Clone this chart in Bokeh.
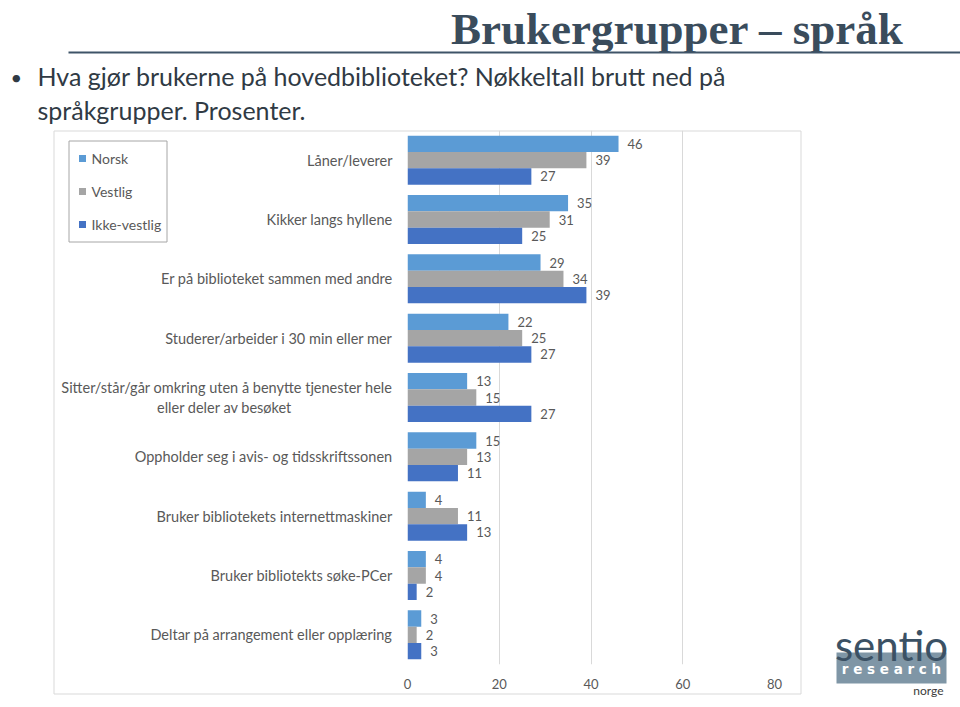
from bokeh.plotting import figure
from bokeh.models import FactorRange, Range1d, FixedTicker, ColumnDataSource, LabelSet
from bokeh.core.properties import value
from bokeh.transform import dodge
from bokeh.embed import file_html
from bokeh.resources import INLINE

NB = "\u00a0"
categories = [
    "Låner/leverer",
    "Kikker langs hyllene",
    "Er på biblioteket sammen med andre",
    "Studerer/arbeider i 30 min eller mer",
    "Sitter/står/går omkring uten å benytte tjenester hele\neller deler av besøket" + NB * 27,
    "Oppholder seg i avis- og tidsskriftssonen",
    "Bruker bibliotekets internettmaskiner",
    "Bruker bibliotekts søke-PCer",
    "Deltar på arrangement eller opplæring",
]
norsk = [46, 35, 29, 22, 13, 15, 4, 4, 3]
vestlig = [39, 31, 34, 25, 15, 13, 11, 4, 2]
ikke_vestlig = [27, 25, 39, 27, 27, 11, 13, 2, 3]
series_names = ["Norsk", "Vestlig", "Ikke-vestlig"]
x_ticks = [0, 20, 40, 60, 80]

title_text = "Brukergrupper – språk"
bullet_lines = ["Hva gjør brukerne på hovedbiblioteket? Nøkkeltall brutt ned på",
                "språkgrupper. Prosenter."]

colors = ["#5B9BD5", "#A5A5A5", "#4472C4"]
TXT = "#595959"
FONT = "Lato"
OVER = {"position": "absolute", "left": "0px", "top": "0px"}

# ---------------- background / decoration figure (pixel coordinates) ----------------
bg = figure(width=960, height=707, output_backend="svg", toolbar_location=None,
            x_range=Range1d(0, 960), y_range=Range1d(707, 0),
            x_axis_type=None, y_axis_type=None, min_border=0, styles=OVER)
bg.grid.visible = False
bg.outline_line_color = None
bg.background_fill_color = "white"
bg.border_fill_color = "white"

# title and rule
bg.text(x=[903], y=[28], text=[title_text], text_font=value("Liberation Serif"),
        text_font_style="bold", text_font_size="45px", text_color="#3a4c5c",
        text_align="right", text_baseline="middle")
bg.segment(x0=[68], y0=[52], x1=[960], y1=[52], line_color="#3f5468", line_width=2)
# bullet text
bg.text(x=[10], y=[76], text=["•"], text_font=value(FONT), text_font_size="20px",
        text_color="#303a44", text_baseline="middle")
bg.text(x=[37, 37], y=[75, 109], text=bullet_lines, text_font=value(FONT),
        text_font_size="25px", text_color="#303a44", text_baseline="middle")
# chart box
bg.quad(left=[53.5], right=[800.5], top=[130.5], bottom=[693.5], fill_color=None,
        line_color="#d9d9d9", line_width=1)
# legend (drawn from the series names and colours)
bg.quad(left=[68.5], right=[166.5], top=[140.5], bottom=[241.5], fill_color="white",
        line_color="#a6a6a6", line_width=1)
leg_y = [158, 191, 224]
bg.rect(x=[82] * 3, y=leg_y, width=7, height=7, fill_color=colors, line_color=None)
bg.text(x=[91] * 3, y=leg_y, text=series_names, text_font=value(FONT),
        text_font_size="14px", text_color=TXT, text_baseline="middle")
# logo
bg.quad(left=[836], right=[946], top=[652], bottom=[683], fill_color="#7f96a6",
        line_color=None)
bg.text(x=[891], y=[644], text=["sentio"], text_font=value(FONT), text_font_size="42px",
        text_color="#3b5164", text_align="center", text_baseline="middle")
bg.text(x=[891], y=[668], text=["r e s e a r c h"], text_font=value("DejaVu Sans"),
        text_font_style="bold", text_font_size="13.5px", text_color="white",
        text_align="center", text_baseline="middle")
bg.text(x=[943], y=[690], text=["norge"], text_font=value(FONT), text_font_size="12px",
        text_color="#3b3b3b", text_align="right", text_baseline="middle")

# ---------------- chart figure ----------------
src = ColumnDataSource(dict(cat=categories, norsk=norsk, vestlig=vestlig, ikke=ikke_vestlig,
                            norsk_t=[str(v) for v in norsk],
                            vestlig_t=[str(v) for v in vestlig],
                            ikke_t=[str(v) for v in ikke_vestlig]))

p = figure(width=960, height=707, output_backend="svg", toolbar_location=None,
           y_range=FactorRange(factors=list(reversed(categories)), range_padding=0),
           x_range=Range1d(0, 80), styles=OVER,
           min_border_left=407, min_border_right=186, min_border_top=130, min_border_bottom=43)
p.outline_line_color = None
p.background_fill_alpha = 0
p.border_fill_alpha = 0

h = 0.275
for col, off, c in [("norsk", h, colors[0]), ("vestlig", 0, colors[1]), ("ikke", -h, colors[2])]:
    p.hbar(y=dodge("cat", off, range=p.y_range), right=col, left=0, height=h,
           fill_color=c, line_color=None, source=src)
    p.add_layout(LabelSet(x=col, y=dodge("cat", off, range=p.y_range), text=col + "_t",
                          source=src, x_offset=9, text_baseline="middle", text_align="left",
                          text_font_size="13px", text_color=TXT, text_font=value(FONT)))

p.xaxis.ticker = FixedTicker(ticks=x_ticks)
p.xaxis.axis_line_color = None
p.xaxis.major_tick_line_color = None
p.xaxis.minor_tick_line_color = None
p.xaxis.major_label_text_font_size = "13px"
p.xaxis.major_label_text_color = TXT
p.xaxis.major_label_text_font = FONT
p.xaxis.major_label_standoff = 8

p.yaxis.axis_line_color = None
p.yaxis.major_tick_line_color = None
p.yaxis.minor_tick_line_color = None
p.yaxis.major_label_text_font_size = "14.5px"
p.yaxis.major_label_text_color = TXT
p.yaxis.major_label_text_font = FONT
p.yaxis.major_label_standoff = 9

p.xgrid.grid_line_color = "#d9d9d9"
p.ygrid.grid_line_color = None

open("out.html", "w").write(file_html((bg, p), INLINE))
